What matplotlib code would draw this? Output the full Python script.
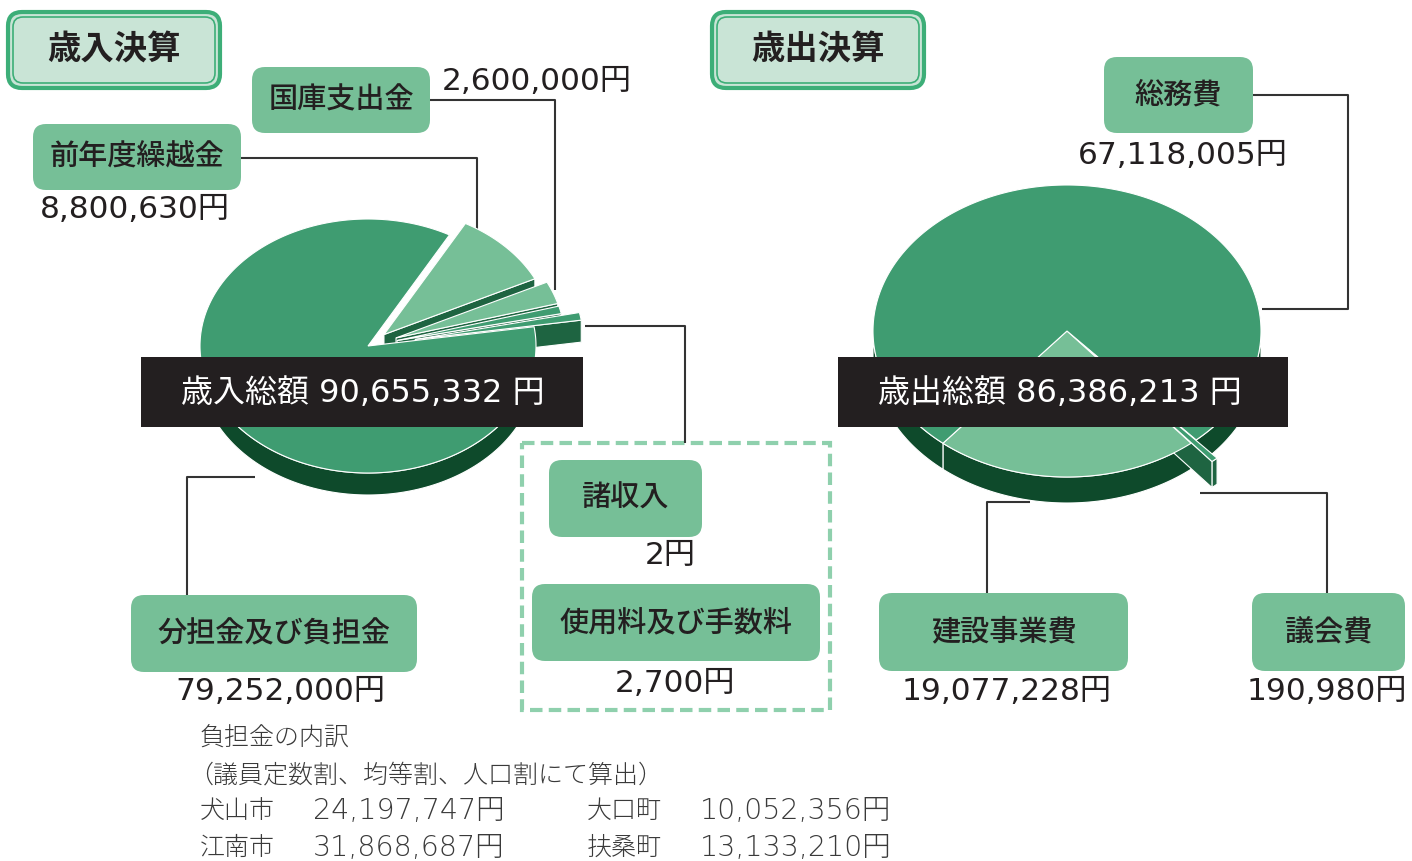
import numpy as np
import matplotlib.pyplot as plt
from matplotlib.patches import Polygon, FancyBboxPatch, Rectangle

plt.rcParams['font.family'] = ['Noto Sans CJK JP', 'DejaVu Sans']
NUMFONT = ['DejaVu Sans', 'Noto Sans CJK JP']

# data
rev_labels = ['分担金及び負担金', '諸収入', '使用料及び手数料', '国庫支出金', '前年度繰越金']
rev_values = [79252000, 2, 2700, 2600000, 8800630]
exp_labels = ['建設事業費', '議会費', '総務費']
exp_values = [19077228, 190980, 67118005]
towns = ['犬山市', '大口町', '江南市', '扶桑町']
town_values = [24197747, 10052356, 31868687, 13133210]

W, H = 1412, 861
fig = plt.figure(figsize=(14.12, 8.61), dpi=100)
ax = fig.add_axes([0, 0, 1, 1])
ax.set_xlim(0, W)
ax.set_ylim(H, 0)
ax.axis('off')

DARK = '#0e4a2b'
CUT = '#1e6441'
MID = '#3f9c71'
LIGHT = '#76bf97'
INK = '#231f20'


def spans(values, start, min_deg):
    total = sum(values)
    deg = [max(360 * v / total, min_deg) for v in values]
    big = deg.index(max(deg))
    deg[big] = 360 - (sum(deg) - deg[big])
    out, a = [], start
    for d in deg:
        out.append((a, a + d))
        a += d
    return out


def draw_pie(values, cx, cy, rx, ry, depth, start, explode, tops, min_deg=3.5):
    sp = spans(values, start, min_deg)
    order = np.argsort(explode)
    for i in order:
        a0, a1 = sp[i]
        mid = np.radians((a0 + a1) / 2)
        ox = cx + explode[i] * np.cos(mid)
        oy = cy - explode[i] * ry / rx * np.sin(mid)
        t = np.radians(np.linspace(a0, a1, max(int((a1 - a0) * 2), 6)))
        xs = ox + rx * np.cos(t)
        ys = oy - ry * np.sin(t)
        front = np.where(np.sin(t) < 0)[0]
        if len(front):
            runs = np.split(front, np.where(np.diff(front) > 1)[0] + 1)
            for r in runs:
                if len(r) < 2:
                    continue
                px = np.concatenate([xs[r], xs[r][::-1]])
                py = np.concatenate([ys[r], ys[r][::-1] + depth])
                fc = DARK if explode[i] == 0 else CUT
                ax.add_patch(Polygon(np.c_[px, py], fc=fc, ec='white', lw=0.8, zorder=2))
        # radial cut faces of pulled-out slices
        for ang, vis in ((a0, np.cos(np.radians(a0)) > 0), (a1, np.cos(np.radians(a1)) < 0)):
            if vis and explode[i] > 0:
                ex = ox + rx * np.cos(np.radians(ang))
                ey = oy - ry * np.sin(np.radians(ang))
                ax.add_patch(Polygon([(ox, oy), (ex, ey), (ex, ey + depth), (ox, oy + depth)],
                                     fc=CUT, ec='white', lw=0.8, zorder=2))
    for i in order:
        a0, a1 = sp[i]
        mid = np.radians((a0 + a1) / 2)
        ox = cx + explode[i] * np.cos(mid)
        oy = cy - explode[i] * ry / rx * np.sin(mid)
        t = np.radians(np.linspace(a0, a1, max(int((a1 - a0) * 2), 6)))
        pts = [(ox, oy)] + list(zip(ox + rx * np.cos(t), oy - ry * np.sin(t)))
        ax.add_patch(Polygon(pts, fc=tops[i], ec='white', lw=0.8, zorder=3))


def label_box(x0, y0, x1, y1, text, size=21):
    ax.add_patch(FancyBboxPatch((x0, y0), x1 - x0, y1 - y0,
                                boxstyle='round,pad=0,rounding_size=13',
                                fc=LIGHT, ec='none', zorder=5))
    ax.text((x0 + x1) / 2, (y0 + y1) / 2, text, ha='center', va='center',
            fontsize=size, fontweight='medium', color=INK, zorder=6)


def title_box(x0, y0, x1, y1, text):
    ax.add_patch(FancyBboxPatch((x0, y0), x1 - x0, y1 - y0,
                                boxstyle='round,pad=0,rounding_size=14',
                                fc='#c9e4d6', ec='#3dae78', lw=3, zorder=5))
    ax.add_patch(FancyBboxPatch((x0 + 5, y0 + 5), x1 - x0 - 10, y1 - y0 - 10,
                                boxstyle='round,pad=0,rounding_size=10',
                                fc='none', ec='#3dae78', lw=1.2, zorder=5))
    ax.text((x0 + x1) / 2, (y0 + y1) / 2, text, ha='center', va='center',
            fontsize=24, fontweight='bold', color=INK, zorder=6)


def value(x, y, v, size=22.5):
    ax.text(x, y, f'{v:,}円', ha='center', va='center', fontsize=size,
            family=NUMFONT, color=INK, zorder=6)


def leader(xs, ys):
    ax.plot(xs, ys, color='#333333', lw=1.5, zorder=1.5, solid_capstyle='butt')


# pies (tiny slices keep a minimum width so they can be seen)
draw_pie(rev_values, 368, 346, 168, 127, 22, -299,
         explode=[0, 48, 30, 30, 22], tops=[MID, MID, MID, LIGHT, LIGHT])
exp_sp = 360 * exp_values[0] / sum(exp_values)
draw_pie(exp_values, 1067, 331, 194, 146, 26, 270 - exp_sp / 2,
         explode=[0, 32, 0], tops=[LIGHT, MID, MID], min_deg=2)

# total bands
ax.add_patch(Rectangle((141, 357), 442, 70, fc=INK, ec='none', zorder=4))
ax.text(363, 393, f'歳入総額 {sum(rev_values):,} 円', ha='center', va='center',
        fontsize=23, color='white', family=NUMFONT, zorder=6)
ax.add_patch(Rectangle((838, 357), 450, 70, fc=INK, ec='none', zorder=4))
ax.text(1060, 393, f'歳出総額 {sum(exp_values):,} 円', ha='center', va='center',
        fontsize=23, color='white', family=NUMFONT, zorder=6)

# titles
title_box(8, 12, 220, 88, '歳入決算')
title_box(712, 12, 924, 88, '歳出決算')

# revenue labels
label_box(33, 124, 241, 190, rev_labels[4])
value(135, 210, rev_values[4])
leader([241, 477, 477], [158, 158, 236])

label_box(252, 67, 430, 133, rev_labels[3])
value(537, 82, rev_values[3])
leader([430, 555, 555], [100, 100, 290])

ax.add_patch(Rectangle((522, 443), 308, 267, fc='none', ec='#8fd0ad', lw=3,
                       ls=(0, (3, 1.5)), zorder=1))
leader([585, 685, 685], [326, 326, 443])
label_box(549, 460, 702, 537, rev_labels[1])
value(670, 556, rev_values[1])
label_box(532, 584, 820, 661, rev_labels[2])
value(675, 683, rev_values[2])

label_box(131, 595, 417, 672, rev_labels[0])
value(280, 692, rev_values[0])
leader([187, 187, 255], [595, 477, 477])

# expenditure labels
label_box(1104, 57, 1253, 133, exp_labels[2])
value(1183, 155, exp_values[2])
leader([1253, 1348, 1348, 1262], [95, 95, 309, 309])

label_box(879, 593, 1128, 671, exp_labels[0])
value(1007, 692, exp_values[0])
leader([987, 987, 1030], [593, 502, 502])

label_box(1252, 593, 1405, 671, exp_labels[1])
value(1327, 692, exp_values[1])
leader([1327, 1327, 1200], [593, 493, 493])

# breakdown notes
note = dict(fontsize=18, fontweight='light', color='#3a3a3a', va='center')
ax.text(200, 738, '負担金の内訳', **note)
ax.text(188, 775, '（議員定数割、均等割、人口割にて算出）', **note)
for k, (name, v) in enumerate(zip(towns, town_values)):
    col, row = k % 2, k // 2
    x = 200 + col * 387
    y = 811 + row * 37
    ax.text(x, y, name, **note)
    ax.text(x + 113, y, f'{v:,}円', fontsize=20.5, fontweight='light', family=NUMFONT,
            color='#3a3a3a', va='center')

fig.savefig('out.png', dpi=100)
